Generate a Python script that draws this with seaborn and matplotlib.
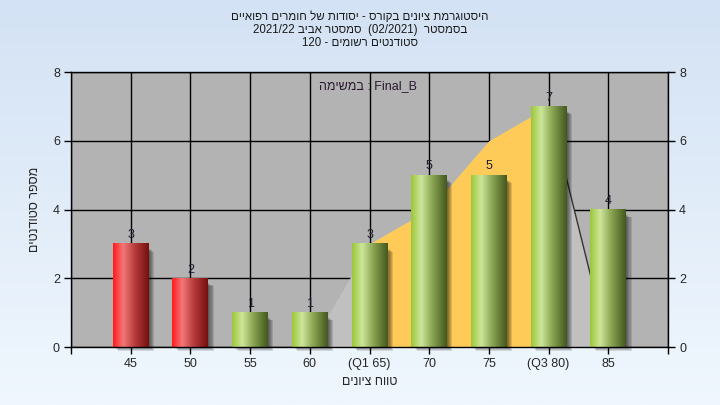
import re
import numpy as np
import pandas as pd
import matplotlib
matplotlib.use("Agg")
import matplotlib.pyplot as plt
import seaborn as sns
from matplotlib.colors import LinearSegmentedColormap
from matplotlib.patches import Rectangle

# Data
grades = [45, 50, 55, 60, 65, 70, 75, 80, 85]
grade_labels = ['45', '50', '55', '60', '(Q1 65)', '70', '75', '(Q3 80)', '85']
counts = [3, 2, 1, 1, 3, 5, 5, 7, 4]

# background distribution polygon (grade -> height)
curve_grades = [60, 65, 70, 75, 80, 85]
curve_values = [0, 3, 4, 6, 7, 0]
q1_grade = 65
q3_grade = 80
pass_grade = 55

title_lines = [
    "היסטוגרמת ציונים בקורס - יסודות של חומרים רפואיים",
    "בסמסטר  (02/2021)  סמסטר אביב 2021/22",
    "סטודנטים רשומים - 120",
]
x_title = "טווח ציונים"
y_title = "מספר סטודנטים"
assign_word = "במשימה"
assign_name = "Final_B"


def rtl(s):
    # visual order for a right-to-left line (latin/digit runs kept as is)
    parts = re.findall(r'[0-9A-Za-z_/.]+|[^0-9A-Za-z_/.]+', s)
    out = []
    for p in reversed(parts):
        if re.match(r'[0-9A-Za-z_/.]', p):
            out.append(p)
        else:
            out.append(p[::-1].translate(str.maketrans('()', ')(')))
    return ''.join(out)


sns.set_style("white")
plt.rcParams['font.family'] = ['Liberation Sans', 'DejaVu Sans']

df = pd.DataFrame({'grade': grade_labels, 'count': counts})

fig = plt.figure(figsize=(7.2, 4.05), dpi=100)

# figure background gradient
bg = fig.add_axes([0, 0, 1, 1], zorder=-5)
bg_cmap = LinearSegmentedColormap.from_list('bg', ['#d3e2f4', '#f0f7fe'])
bg.imshow(np.linspace(0, 1, 256).reshape(-1, 1), aspect='auto', cmap=bg_cmap,
          extent=[0, 1, 0, 1])
bg.axis('off')

ax = fig.add_axes([0.0986, 0.1432, 0.8292, 0.679])
ax.set_facecolor('#b3b3b3')

sns.barplot(data=df, x='grade', y='count', width=0.6, ax=ax,
            color='#9ec83c', saturation=1, zorder=2)

# distribution polygon behind bars
pos = {g: i for i, g in enumerate(grades)}
cx = np.array([pos[g] for g in curve_grades], dtype=float)
cy = np.array(curve_values, dtype=float)
ax.fill_between(cx, 0, cy, color='#c0c0c0', lw=0, zorder=1)
mask = (cx >= pos[q1_grade]) & (cx <= pos[q3_grade])
ax.fill_between(cx[mask], 0, cy[mask], color='#ffcb58', lw=0, zorder=1.1)
ax.plot(cx[-2:], cy[-2:], color='#333333', lw=1, zorder=1.2)

green = LinearSegmentedColormap.from_list(
    'g', [(0, '#9cc83a'), (0.28, '#cde69a'), (0.62, '#85a04e'), (1, '#44591f')])
red = LinearSegmentedColormap.from_list(
    'r', [(0, '#ff1c1c'), (0.28, '#f37777'), (0.62, '#b53a3a'), (1, '#761010')])
grad = np.linspace(0, 1, 64).reshape(1, -1)

for patch, g, c in zip(ax.patches, grades, counts):
    x0 = patch.get_x()
    w = patch.get_width()
    h = patch.get_height()
    patch.set_alpha(0)
    # soft shadow
    for k in range(5):
        d = 0.018 * (k + 1)
        ax.add_patch(Rectangle((x0 + d, -d * 1.2), w, h - 0.12, color='black',
                               alpha=0.12, lw=0, zorder=1.5, clip_on=False))
    cmap = red if g < pass_grade else green
    ax.imshow(grad, extent=[x0, x0 + w, 0, h], aspect='auto', cmap=cmap,
              zorder=2, interpolation='bilinear')
    ax.text(x0 + w / 2, h + 0.08, str(c), ha='center', va='bottom',
            fontsize=9, color='#1c1c30', zorder=3)

ax.set_xlim(-1, 9)
ax.set_ylim(0, 8)
ax.set_aspect('auto')

ax.set_xticks(range(-1, 10))
ax.set_xticklabels([''] + grade_labels + [''], fontsize=9)
ax.set_yticks(range(0, 9, 2))
ax.tick_params(axis='both', direction='out', length=5, width=1, color='black',
               labelsize=9, pad=3, left=True, bottom=True)
ax.set_axisbelow(True)
ax.grid(True, color='black', lw=1)
for s in ax.spines.values():
    s.set_color('black')
    s.set_linewidth(1)

ax2 = ax.twinx()
ax2.set_ylim(0, 8)
ax2.set_yticks(range(0, 9, 2))
ax2.tick_params(axis='y', direction='out', length=5, width=1, color='black',
                labelsize=9, pad=3, right=True)
ax2.grid(False)
for s in ax2.spines.values():
    s.set_visible(False)

ax.set_xlabel(rtl(x_title), fontsize=9)
ax.xaxis.set_label_coords(0.5, -0.105)
ax.set_ylabel(rtl(y_title), fontsize=9, rotation=90)
ax.yaxis.set_label_coords(-0.05, 0.5)

ax.text(0.497, 0.949, rtl(assign_word) + ' : ' + assign_name, transform=ax.transAxes,
        ha='center', va='center', fontsize=9, color='#2a1a30', zorder=4)

for i, line in enumerate(title_lines):
    fig.text(0.5, 1 - (17 + 13 * i) / 405, rtl(line), ha='center', va='center',
             fontsize=8.3, color='#1a1a1a')

fig.savefig('out.png', dpi=100)
